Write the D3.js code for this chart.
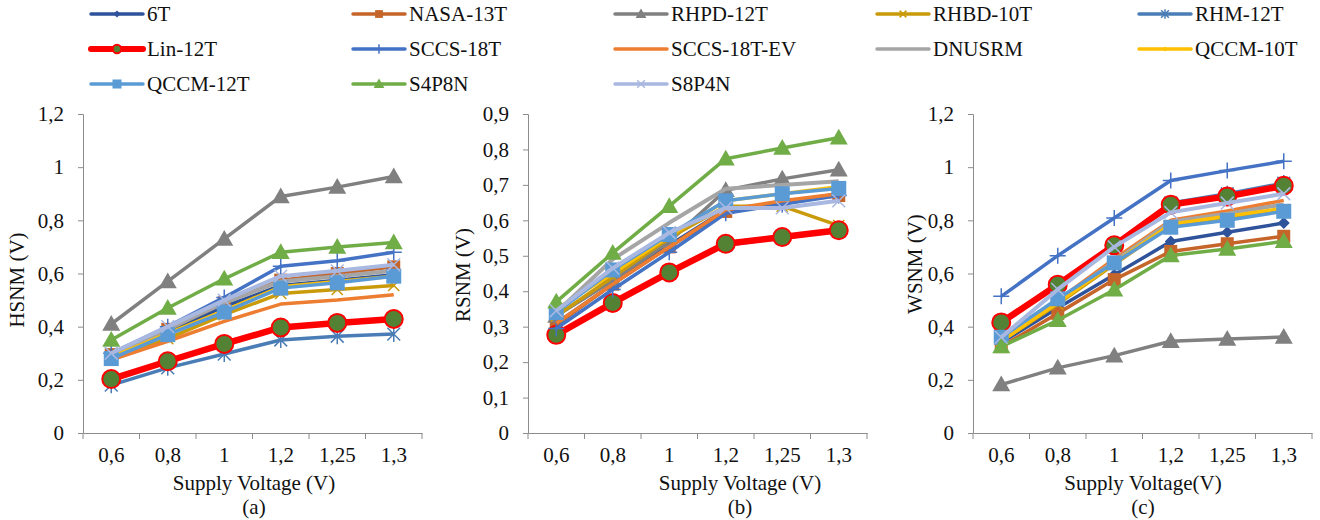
<!DOCTYPE html>
<html>
<head>
<meta charset="utf-8">
<script src="https://cdn.jsdelivr.net/npm/d3@7"></script>
<style>
  body { margin: 0; background: #fff; }
  svg text { font-family: "Liberation Serif", "Times New Roman", serif !important; fill: #111; }
</style>
</head>
<body>
<div class="chart"></div>
<script>
// voltages on the x axis
const categories = ["0,6", "0,8", "1", "1,2", "1,25", "1,3"];

const seriesNames = ["6T", "NASA-13T", "RHPD-12T", "RHBD-10T", "RHM-12T",
    "Lin-12T", "SCCS-18T", "SCCS-18T-EV", "DNUSRM", "QCCM-10T",
    "QCCM-12T", "S4P8N", "S8P4N"];

// one row per series, same order as seriesNames
const hsnmValues = [
    [0.29, 0.38, 0.475, 0.555, 0.575, 0.595],
    [0.295, 0.39, 0.49, 0.575, 0.60, 0.625],
    [0.41, 0.57, 0.73, 0.89, 0.925, 0.965],
    [0.275, 0.355, 0.445, 0.525, 0.54, 0.555],
    [0.18, 0.245, 0.297, 0.35, 0.364, 0.372],
    [0.203, 0.27, 0.335, 0.397, 0.414, 0.429],
    [0.30, 0.40, 0.51, 0.627, 0.648, 0.68],
    [0.275, 0.345, 0.42, 0.485, 0.50, 0.52],
    [0.29, 0.39, 0.49, 0.57, 0.59, 0.61],
    [0.285, 0.375, 0.46, 0.55, 0.57, 0.59],
    [0.28, 0.37, 0.455, 0.545, 0.565, 0.59],
    [0.35, 0.47, 0.58, 0.68, 0.70, 0.717],
    [0.30, 0.40, 0.50, 0.59, 0.61, 0.633]
];

const rsnmValues = [
    [0.31, 0.42, 0.53, 0.63, 0.65, 0.675],
    [0.305, 0.42, 0.525, 0.625, 0.65, 0.67],
    [0.33, 0.43, 0.54, 0.685, 0.717, 0.743],
    [0.33, 0.44, 0.55, 0.64, 0.64, 0.585],
    [0.275, 0.365, 0.455, 0.53, 0.55, 0.57],
    [0.277, 0.367, 0.453, 0.534, 0.553, 0.572],
    [0.295, 0.405, 0.51, 0.62, 0.645, 0.67],
    [0.31, 0.42, 0.525, 0.63, 0.655, 0.675],
    [0.34, 0.49, 0.593, 0.689, 0.70, 0.71],
    [0.35, 0.45, 0.555, 0.655, 0.675, 0.695],
    [0.34, 0.46, 0.56, 0.655, 0.675, 0.69],
    [0.37, 0.508, 0.64, 0.774, 0.804, 0.833],
    [0.345, 0.465, 0.565, 0.635, 0.635, 0.655]
];

const wsnmValues = [
    [0.34, 0.47, 0.595, 0.72, 0.755, 0.79],
    [0.325, 0.45, 0.577, 0.683, 0.712, 0.74],
    [0.182, 0.245, 0.291, 0.345, 0.354, 0.361],
    [0.345, 0.485, 0.635, 0.78, 0.81, 0.84],
    [0.42, 0.56, 0.71, 0.865, 0.90, 0.94],
    [0.416, 0.558, 0.706, 0.859, 0.89, 0.93],
    [0.514, 0.667, 0.809, 0.95, 0.987, 1.022],
    [0.35, 0.50, 0.655, 0.80, 0.835, 0.875],
    [0.35, 0.495, 0.645, 0.795, 0.825, 0.86],
    [0.345, 0.49, 0.64, 0.785, 0.815, 0.845],
    [0.36, 0.505, 0.64, 0.774, 0.80, 0.834],
    [0.325, 0.424, 0.539, 0.668, 0.692, 0.721],
    [0.36, 0.54, 0.70, 0.83, 0.865, 0.90]
];

const hsnmTicks = [0, 0.2, 0.4, 0.6, 0.8, 1, 1.2];
const rsnmTicks = [0, 0.1, 0.2, 0.3, 0.4, 0.5, 0.6, 0.7, 0.8, 0.9];
const wsnmTicks = [0, 0.2, 0.4, 0.6, 0.8, 1, 1.2];

// styling per series
const styles = [
    {color: "#2f539b", marker: "diamond", r: 6, width: 3.5},
    {color: "#c5652a", marker: "square", r: 6.5, width: 3.5},
    {color: "#808080", marker: "triangle", r: 9, width: 3.5},
    {color: "#c99a0a", marker: "times", r: 7, width: 3.5},
    {color: "#4a7db6", marker: "asterisk", r: 8, width: 3.5},
    {color: "#ff0000", marker: "circle", r: 9, width: 6.5, fill: "#548235"},
    {color: "#4472c4", marker: "plus", r: 8, width: 3.5},
    {color: "#ed7d31", marker: null, width: 3.5},
    {color: "#a5a5a5", marker: null, width: 4},
    {color: "#ffc000", marker: "diamond", r: 4, width: 3.5},
    {color: "#5b9bd5", marker: "square", r: 7.5, width: 3.5},
    {color: "#70ad47", marker: "triangle", r: 9, width: 3.5},
    {color: "#a9b8e0", marker: "times", r: 8, width: 4}
];

const panels = [
    {values: hsnmValues, ticks: hsnmTicks, max: 1.2, left: 83, right: 422, yTitle: "HSNM (V)",
     xTitle: "Supply Voltage (V)", label: "(a)", yTitleX: 24, yTitleY: 280, xTitleX: 254},
    {values: rsnmValues, ticks: rsnmTicks, max: 0.9, left: 528, right: 867, yTitle: "RSNM (V)",
     xTitle: "Supply Voltage (V)", label: "(b)", yTitleX: 470, yTitleY: 275, xTitleX: 740},
    {values: wsnmValues, ticks: wsnmTicks, max: 1.2, left: 973, right: 1312, yTitle: "WSNM (V)",
     xTitle: "Supply Voltage(V)", label: "(c)", yTitleX: 922, yTitleY: 264, xTitleX: 1143}
];

const plotTop = 114, plotBottom = 433;
const axisColor = "#8c8c8c";
const serif = "'Liberation Serif', 'Times New Roman', serif";
const fmt = d3.formatLocale({decimal: ",", thousands: ".", grouping: [3], currency: ["", ""]}).format("~g");

const svg = d3.select(".chart").append("svg").attr("width", 1320).attr("height", 520)
    .style("font-family", serif);

function drawMarker(g, st, scale) {
    const r = st.r * scale;
    const c = st.color;
    if (st.marker === "diamond") {
        g.append("path").attr("d", `M0,${-r}L${r},0L0,${r}L${-r},0Z`).attr("fill", c);
    } else if (st.marker === "square") {
        g.append("rect").attr("x", -r).attr("y", -r).attr("width", 2 * r).attr("height", 2 * r).attr("fill", c);
    } else if (st.marker === "triangle") {
        g.append("path").attr("d", `M0,${-r}L${r},${r * 0.75}L${-r},${r * 0.75}Z`).attr("fill", c);
    } else if (st.marker === "circle") {
        g.append("circle").attr("r", r).attr("fill", st.fill).attr("stroke", c).attr("stroke-width", 2);
    } else if (st.marker === "plus") {
        g.append("path").attr("d", `M${-r},0H${r}M0,${-r}V${r}`).attr("stroke", c).attr("stroke-width", 1.5);
    } else if (st.marker === "times") {
        const a = r * 0.8;
        g.append("path").attr("d", `M${-a},${-a}L${a},${a}M${-a},${a}L${a},${-a}`).attr("stroke", c).attr("stroke-width", 1.5);
    } else if (st.marker === "asterisk") {
        const a = r * 0.8;
        g.append("path").attr("d", `M${-a},${-a}L${a},${a}M${-a},${a}L${a},${-a}M0,${-r}V${r}`).attr("stroke", c).attr("stroke-width", 1.5);
    }
}

panels.forEach(p => {
    const x = d3.scaleBand().domain(categories).range([p.left, p.right]);
    const y = d3.scaleLinear().domain([0, p.max]).range([plotBottom, plotTop]);
    const g = svg.append("g");

    // y axis
    const yAxis = g.append("g").attr("transform", `translate(${p.left},0)`)
        .call(d3.axisLeft(y).tickValues(p.ticks).tickSize(5).tickPadding(14).tickFormat(fmt));
    yAxis.attr("font-family", null).attr("font-size", null);
    yAxis.selectAll("text").style("font-family", serif).style("font-size", "21px");
    yAxis.selectAll("line, path").attr("stroke", axisColor);

    // x axis, ticks between categories
    const xAxis = g.append("g").attr("transform", `translate(0,${plotBottom})`)
        .call(d3.axisBottom(x).tickSize(0).tickPadding(14));
    xAxis.attr("font-family", null).attr("font-size", null);
    xAxis.select("path").attr("stroke", axisColor);
    xAxis.selectAll("text").style("font-family", serif).style("font-size", "21px");
    g.selectAll(".sep").data(d3.range(categories.length + 1)).join("line")
        .attr("x1", i => p.left + i * x.step()).attr("x2", i => p.left + i * x.step())
        .attr("y1", plotBottom).attr("y2", plotBottom + 6).attr("stroke", axisColor);

    const line = d3.line().x((d, i) => x(categories[i]) + x.bandwidth() / 2).y(d => y(d));
    p.values.forEach((vals, si) => {
        const st = styles[si];
        const sg = g.append("g");
        sg.append("path").attr("d", line(vals)).attr("fill", "none")
            .attr("stroke", st.color).attr("stroke-width", st.width).attr("stroke-linejoin", "round");
        if (st.marker) {
            vals.forEach((v, i) => {
                const m = sg.append("g").attr("transform", `translate(${x(categories[i]) + x.bandwidth() / 2},${y(v)})`);
                drawMarker(m, st, 1);
            });
        }
    });

    g.append("text").attr("transform", `translate(${p.yTitleX},${p.yTitleY}) rotate(-90)`)
        .attr("text-anchor", "middle").style("font-size", "21px").text(p.yTitle);
    g.append("text").attr("x", p.xTitleX).attr("y", 490).attr("text-anchor", "middle")
        .style("font-size", "21px").text(p.xTitle);
    g.append("text").attr("x", p.xTitleX).attr("y", 514).attr("text-anchor", "middle")
        .style("font-size", "21px").text(p.label);
});

// legend, 5 columns
const legend = svg.append("g");
seriesNames.forEach((name, i) => {
    const col = i % 5, row = Math.floor(i / 5);
    const lx = 91 + col * 262, ly = 14 + row * 35;
    const st = styles[i];
    const lg = legend.append("g").attr("transform", `translate(${lx},${ly})`);
    lg.append("line").attr("x1", 0).attr("x2", 52).attr("stroke", st.color)
        .attr("stroke-width", st.width > 6 ? 6 : 3.5).attr("stroke-linecap", "round");
    if (st.marker) {
        const m = lg.append("g").attr("transform", "translate(26,0)");
        drawMarker(m, st.marker === "circle" ? Object.assign({}, st, {r: 7}) : st, 0.6);
    }
    lg.append("text").attr("x", 56).attr("y", 7).style("font-size", "21px").text(name);
});
</script>
</body>
</html>
